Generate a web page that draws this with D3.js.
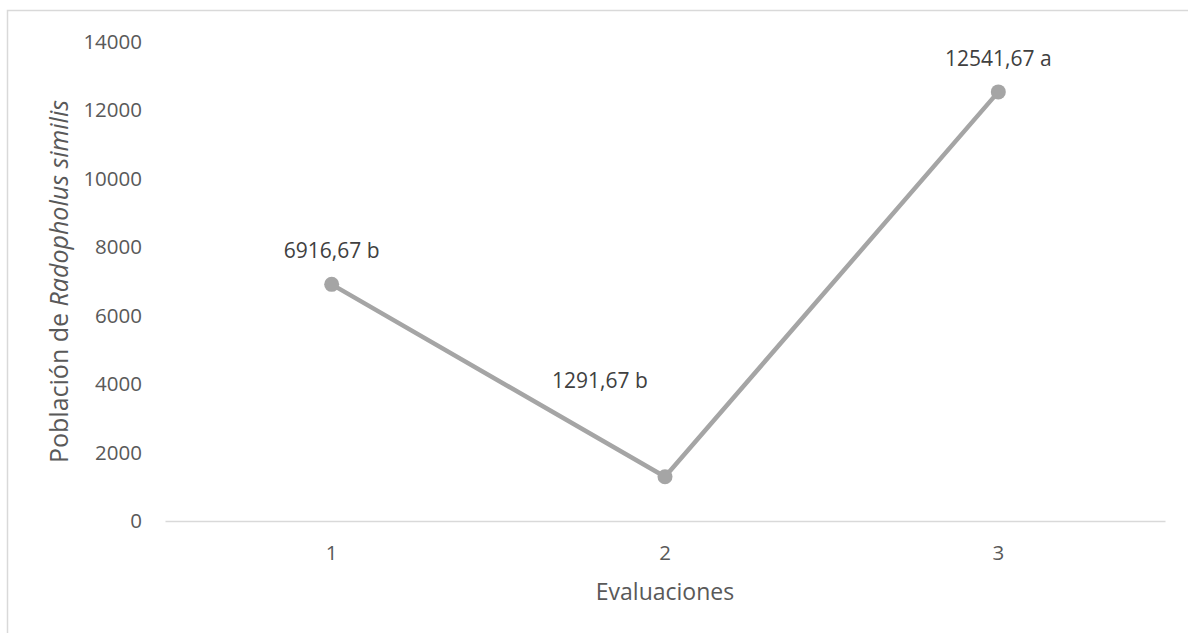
<!DOCTYPE html>
<html>
<head>
<meta charset="utf-8">
<script src="https://cdn.jsdelivr.net/npm/d3@7"></script>
<style>
  html, body { margin: 0; padding: 0; background: #fff; }
  svg { display: block; font-family: "Open Sans", sans-serif; }
</style>
</head>
<body>
<script>
// Evaluation number, mean population and significance letter
const evaluaciones = ["1", "2", "3"];
const poblacion = [6916.67, 1291.67, 12541.67];
const letras = ["b", "b", "a"];
const yTicks = [0, 2000, 4000, 6000, 8000, 10000, 12000, 14000];

// Data-label placement relative to each point (dx, dy in px)
const labelOffsets = [[0, -32], [-65, -94], [0, -32]];

const W = 1188, H = 633;
const margin = { top: 42, right: 23, bottom: 112, left: 165 };

const svg = d3.select("body").append("svg")
  .attr("width", W).attr("height", H);

// chart frame
svg.append("rect")
  .attr("x", 7.5).attr("y", 10.5)
  .attr("width", W).attr("height", H)
  .attr("fill", "none").attr("stroke", "#d9d9d9").attr("stroke-width", 1.5);

const x = d3.scaleBand()
  .domain(evaluaciones)
  .range([margin.left, W - margin.right]);

const y = d3.scaleLinear()
  .domain([0, 14000])
  .range([H - margin.bottom, margin.top]);

const fmt = d3.formatLocale({ decimal: ",", thousands: "", grouping: [3], currency: ["", ""] }).format(".2f");

// y axis (labels only)
const yAxis = svg.append("g")
  .attr("transform", `translate(${margin.left},0)`)
  .call(d3.axisLeft(y).tickValues(yTicks).tickSize(0).tickPadding(23).tickFormat(d3.format("d")));
yAxis.select(".domain").remove();
yAxis.selectAll("text")
  .attr("fill", "#595959").style("font-size", "20.5px").style("font-family", "'Open Sans', sans-serif");

// x axis baseline and labels
const xAxis = svg.append("g")
  .attr("transform", `translate(0,${y(0)})`)
  .call(d3.axisBottom(x).tickSize(0).tickPadding(24));
xAxis.select(".domain").attr("stroke", "#d9d9d9").attr("stroke-width", 1.5);
xAxis.selectAll("text")
  .attr("fill", "#595959").style("font-size", "20.5px").style("font-family", "'Open Sans', sans-serif");

// axis titles
svg.append("text")
  .attr("x", x.range()[0] + (x.range()[1] - x.range()[0]) / 2)
  .attr("y", 600)
  .attr("text-anchor", "middle")
  .attr("fill", "#595959").style("font-size", "23px")
  .text("Evaluaciones");

const yTitle = svg.append("text")
  .attr("transform", `translate(68,${(y(0) + y(14000)) / 2}) rotate(-90)`)
  .attr("text-anchor", "middle")
  .attr("fill", "#595959").style("font-size", "25px");
yTitle.append("tspan").text("Población de ");
yTitle.append("tspan").style("font-style", "italic").text("Radopholus similis");

const pts = evaluaciones.map((e, i) => ({ e, v: poblacion[i], l: letras[i], o: labelOffsets[i] }));
const cx = d => x(d.e) + x.bandwidth() / 2;

// series line
svg.append("path")
  .datum(pts)
  .attr("fill", "none")
  .attr("stroke", "#a5a5a5")
  .attr("stroke-width", 4.5)
  .attr("stroke-linejoin", "round")
  .attr("d", d3.line().x(cx).y(d => y(d.v)));

// markers
svg.selectAll("circle.pt")
  .data(pts).join("circle")
  .attr("class", "pt")
  .attr("cx", cx).attr("cy", d => y(d.v))
  .attr("r", 7.5)
  .attr("fill", "#a5a5a5");

// data labels
svg.selectAll("text.lbl")
  .data(pts).join("text")
  .attr("class", "lbl")
  .attr("x", d => cx(d) + d.o[0])
  .attr("y", d => y(d.v) + d.o[1])
  .attr("text-anchor", "middle")
  .attr("dominant-baseline", "middle")
  .attr("fill", "#404040").style("font-size", "21px")
  .text(d => `${fmt(d.v)} ${d.l}`);
</script>
</body>
</html>
